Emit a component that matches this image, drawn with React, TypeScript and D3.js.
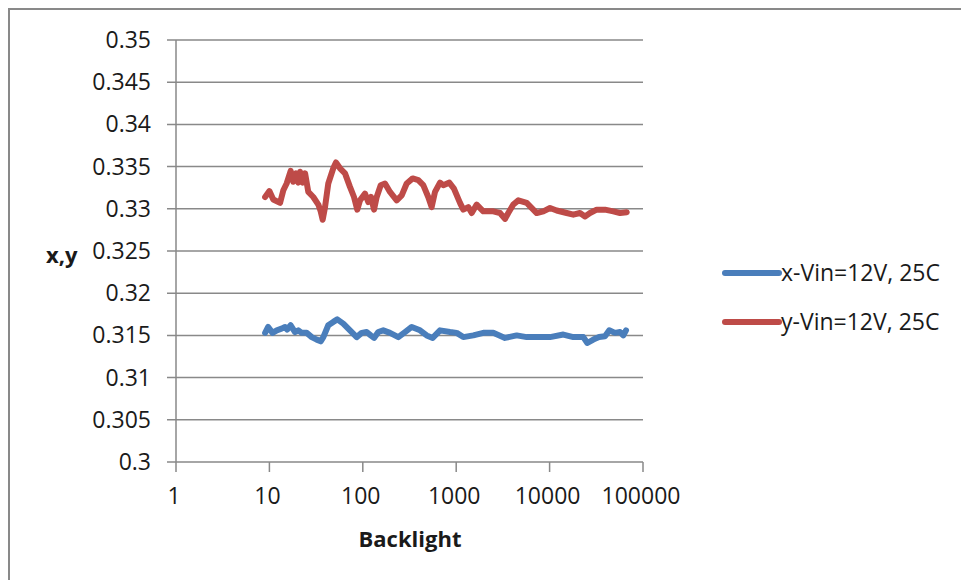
import React from 'react';
import * as d3 from 'd3';

// Backlight values shared by both series
const backlightX = [9.0, 9.7, 10.8, 12.0, 13.5, 14.7, 15.5, 16.9, 18.8, 20.4, 22.2, 25.1, 28.4, 32.1, 35.4, 37.8, 42.7, 48.3, 53.3, 61.8, 72.9, 86.0, 97.3, 110, 121.5, 132, 146.5, 165.6, 195.5, 240, 283, 334, 410, 483, 560, 671, 859, 1012, 1191, 1524, 1950, 2495, 3328, 4444, 5686, 7277, 10100, 14030, 17940, 22960, 25350, 29380, 33870, 39180, 43550, 50120, 56750, 61520, 65780];
const xValues = [0.3153, 0.316, 0.3153, 0.3156, 0.3158, 0.316, 0.3157, 0.3162, 0.3154, 0.3156, 0.3153, 0.3153, 0.3148, 0.3145, 0.3143, 0.3148, 0.3162, 0.3166, 0.3169, 0.3164, 0.3156, 0.3148, 0.3153, 0.3154, 0.315, 0.3147, 0.3154, 0.3156, 0.3153, 0.3148, 0.3154, 0.316, 0.3156, 0.315, 0.3147, 0.3156, 0.3154, 0.3153, 0.3148, 0.315, 0.3153, 0.3153, 0.3147, 0.315, 0.3148, 0.3148, 0.3148, 0.3151, 0.3148, 0.3148, 0.3141, 0.3145, 0.3148, 0.3149, 0.3156, 0.3153, 0.3154, 0.315, 0.3156];

const backlightY = [9.0, 10.0, 11.0, 13.0, 14.1, 15.3, 16.9, 18.0, 19.3, 20.4, 21.3, 22.7, 24.1, 26.1, 29.5, 33.4, 35.4, 37.2, 39.4, 42.7, 48.3, 51.6, 57.0, 64.5, 72.9, 80.5, 87.3, 93.3, 105.6, 114.6, 122.4, 131.9, 140.9, 155.5, 172.9, 195.5, 230.6, 261, 295, 342, 393, 444, 502, 546, 593, 671, 728, 844, 946, 1098, 1191, 1348, 1466, 1657, 1950, 2495, 2944, 3328, 3610, 4087, 4623, 5686, 7277, 8565, 10100, 11910, 15240, 17940, 21150, 23930, 27080, 31930, 39180, 48080, 56750, 66970];
const yValues = [0.3314, 0.3321, 0.3311, 0.3307, 0.3322, 0.333, 0.3345, 0.3332, 0.3342, 0.3331, 0.3344, 0.3331, 0.3342, 0.332, 0.3314, 0.3305, 0.3297, 0.3287, 0.3302, 0.333, 0.3348, 0.3355, 0.3348, 0.3342, 0.3326, 0.3314, 0.3299, 0.331, 0.3318, 0.3308, 0.3314, 0.3299, 0.3314, 0.3328, 0.333, 0.332, 0.331, 0.3316, 0.333, 0.3336, 0.3334, 0.3328, 0.3314, 0.3302, 0.332, 0.3331, 0.3328, 0.3331, 0.3324, 0.3307, 0.3299, 0.3302, 0.3295, 0.3305, 0.3297, 0.3297, 0.3295, 0.3288, 0.3295, 0.3305, 0.331, 0.3307, 0.3295, 0.3297, 0.3301, 0.3298, 0.3295, 0.3293, 0.3295, 0.3291, 0.3295, 0.3299, 0.3299, 0.3297, 0.3295, 0.3296];

const xTicks = [1, 10, 100, 1000, 10000, 100000];
const yTicks = [0.3, 0.305, 0.31, 0.315, 0.32, 0.325, 0.33, 0.335, 0.34, 0.345, 0.35];
const seriesNames = ['x-Vin=12V, 25C', 'y-Vin=12V, 25C'];
const seriesColors = ['#4a7ebb', '#be4b48'];

const font = "'Open Sans', 'Liberation Sans', sans-serif";
const gridColor = '#898989';

export default function App() {
  const x = d3.scaleLog().domain([1, 100000]).range([176, 643]);
  const y = d3.scaleLinear().domain([0.3, 0.35]).range([462, 40]);

  const line = d3.line<[number, number]>()
    .x((d) => x(d[0]))
    .y((d) => y(d[1]));

  const series = [
    backlightX.map((b, i) => [b, xValues[i]] as [number, number]),
    backlightY.map((b, i) => [b, yValues[i]] as [number, number]),
  ];

  return (
    <svg width={961} height={580} style={{position: 'absolute', left: 0, top: 0, background: '#fff'}}
         fontFamily={font}>
      {/* chart frame, runs off the right and bottom edge */}
      <rect x={9} y={9} width={1000} height={620} fill="#fff" stroke={gridColor} strokeWidth={2}/>

      {/* horizontal gridlines + y ticks */}
      {yTicks.map((t) => (
        <g key={t}>
          <line x1={167} x2={643} y1={y(t)} y2={y(t)} stroke={gridColor} strokeWidth={1.5}/>
          <text x={151} y={y(t)} dy="0.35em" textAnchor="end" fontSize={23} fill="#1a1a1a">{t}</text>
        </g>
      ))}

      {/* y axis */}
      <line x1={176} x2={176} y1={y(0.35)} y2={y(0.3)} stroke={gridColor} strokeWidth={1.5}/>

      {/* x ticks */}
      {xTicks.map((t) => (
        <g key={t}>
          <line x1={x(t)} x2={x(t)} y1={462} y2={472} stroke={gridColor} strokeWidth={1.5}/>
          <text x={x(t) - 2} y={504} textAnchor="middle" fontSize={23} fill="#1a1a1a">{t}</text>
        </g>
      ))}

      {/* series */}
      {series.map((s, i) => (
        <path key={i} d={line(s) || ''} fill="none" stroke={seriesColors[i]} strokeWidth={6}
              strokeLinejoin="round" strokeLinecap="round"/>
      ))}

      {/* axis titles */}
      <text x={410} y={547} textAnchor="middle" fontSize={22} fontWeight="bold" fill="#1a1a1a">Backlight</text>
      <text x={46} y={263} fontSize={22} fontWeight="bold" fill="#1a1a1a">x,y</text>

      {/* legend */}
      {seriesNames.map((name, i) => (
        <g key={name} transform={`translate(725, ${273 + i * 49})`}>
          <line x1={0} x2={54} y1={0} y2={0} stroke={seriesColors[i]} strokeWidth={6} strokeLinecap="round"/>
          <text x={56} y={0} dy="0.35em" fontSize={23} fill="#1a1a1a">{name}</text>
        </g>
      ))}
    </svg>
  );
}
